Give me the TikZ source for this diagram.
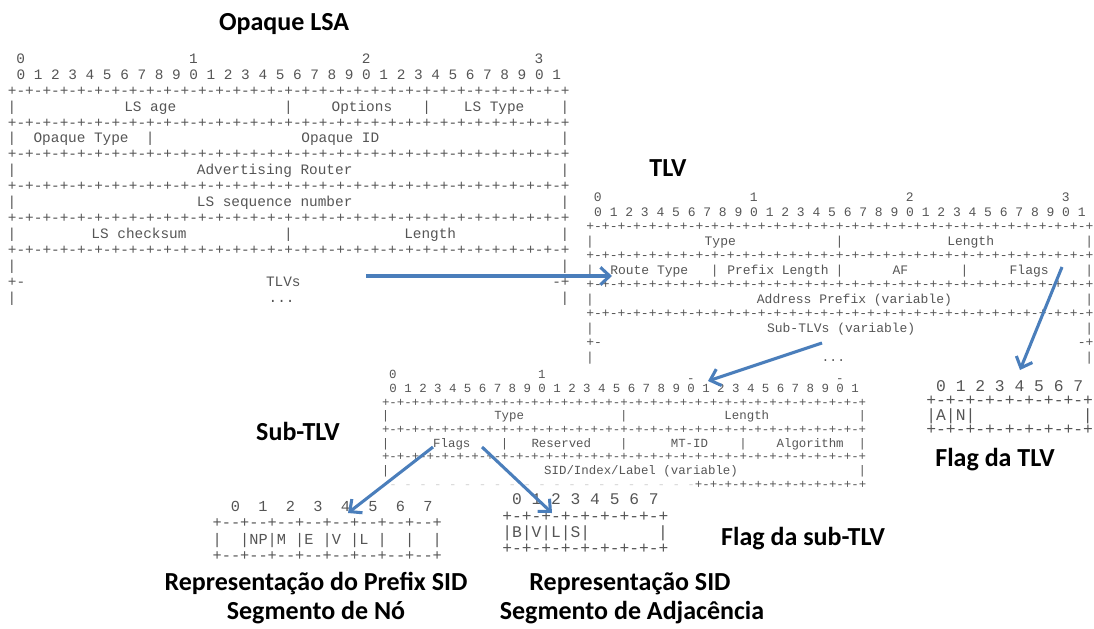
\documentclass[tikz,border=0pt]{standalone}
\usepackage{fontspec}
\setmainfont{Carlito}
\setmonofont{Liberation Mono}
\usetikzlibrary{arrows.meta}

\definecolor{ascii}{HTML}{555555}
\definecolor{faint}{HTML}{D2D2D2}
\definecolor{arrowblue}{HTML}{4A7EBB}

% packet-diagram building blocks (monospaced, one character per column)
\newcommand\bitrow{+-+-+-+-+-+-+-+-+-+-+-+-+-+-+-+-+-+-+-+-+-+-+-+-+-+-+-+-+-+-+-+-+}
\newcommand\bitruler{0 1 2 3 4 5 6 7 8 9 0 1 2 3 4 5 6 7 8 9 0 1 2 3 4 5 6 7 8 9 0 1}
\newcommand\octrow{+-+-+-+-+-+-+-+-+}
\newcommand\dd{-\kern0pt-}
\newcommand\wideoctrow{+\dd+\dd+\dd+\dd+\dd+\dd+\dd+\dd+}
\newcommand\monosize[1]{\ttfamily\fontsize{#1}{#1}\selectfont}
\newcommand\titlefont{\bfseries\fontsize{19.5pt}{19.5pt}\selectfont}

\tikzset{
  cell/.style={text=ascii, inner sep=0pt, anchor=base},
  run/.style={cell, anchor=base west},
  title/.style={font=\titlefont, text=black, inner sep=0pt, anchor=base},
  pointer/.style={draw=arrowblue, line width=2.3pt,
    -{Straight Barb[length=7pt, width=13pt]}},
}

\begin{document}
\begin{tikzpicture}[x=0.75pt, y=-0.75pt]
\useasboundingbox (0,0) rectangle (1094,628);

% ---------------- Opaque LSA ----------------
\node[title] (t-lsa) at (284,30) {Opaque LSA};
\begin{scope}[shift={(12,63.3)}, x=6.48pt, y=-11.95pt, nodes={font=\monosize{10.8pt}}]
  \foreach \c/\d in {1/0,21/1,41/2,61/3} \node[cell] (A-h\d) at (\c,0) {\d};
  \node[run] (A-ruler) at (0.5,1) {\bitruler};
  \foreach \r in {2,4,6,8,10,12} \node[run] (A-line\r) at (-0.5,\r) {\bitrow};
  \foreach \c/\r in {0/3,32/3,48/3,64/3, 0/5,16/5,64/5, 0/7,64/7, 0/9,64/9,
                     0/11,32/11,64/11, 0/13,64/13, 0/15,64/15}
    \node[cell] (A-bar\c-\r) at (\c,\r) {|};
  \node[cell] (A-age)  at (16,3)   {LS age};
  \node[cell] (A-opt)  at (40.5,3) {Options};
  \node[cell] (A-type) at (55.8,3) {LS Type};
  \node[cell] (A-otyp) at (8,5)    {Opaque Type};
  \node[cell] (A-oid)  at (38,5)   {Opaque ID};
  \node[cell] (A-adv)  at (30.4,7) {Advertising Router};
  \node[cell] (A-seq)  at (30.4,9) {LS sequence number};
  \node[cell] (A-cks)  at (14.7,11) {LS checksum};
  \node[cell] (A-len)  at (48.4,11) {Length};
  \node[run]  (A-tl)   at (-0.5,14) {+-};
  \node[cell] (A-tlvs) at (31.4,14) {TLVs};
  \node[run]  (A-tr)   at (62.5,14) {-+};
  \node[cell] (A-more) at (31.2,15) {...};
\end{scope}

% ---------------- TLV ----------------
\node[title] (t-tlv) at (668,176) {TLV};
\begin{scope}[shift={(590,201.9)}, x=5.85pt, y=-10.875pt, nodes={font=\monosize{9.75pt}}]
  \foreach \c/\d in {1/0,21/1,41/2,61/3} \node[cell] (B-h\d) at (\c,0) {\d};
  \node[run] (B-ruler) at (0.5,1) {\bitruler};
  \foreach \r in {2,4,6,8} \node[run] (B-line\r) at (-0.5,\r) {\bitrow};
  \foreach \c/\r in {0/3,32/3,64/3, 0/5,16/5,32/5,48/5,64/5, 0/7,64/7,
                     0/9,64/9, 0/11,64/11}
    \node[cell] (B-bar\c-\r) at (\c,\r) {|};
  \node[cell] (B-type)  at (16.7,3) {Type};
  \node[cell] (B-len)   at (48.8,3) {Length};
  \node[cell] (B-rt)    at (7.6,5)  {Route Type};
  \node[cell] (B-pl)    at (24.1,5) {Prefix Length};
  \node[cell] (B-af)    at (39.8,5) {AF};
  \node[cell] (B-flags) at (56.3,5) {Flags};
  \node[cell] (B-addr)  at (33.9,7) {Address Prefix (variable)};
  \node[cell] (B-sub)   at (32.2,9) {Sub-TLVs (variable)};
  \node[run]  (B-tl)    at (-0.5,10) {+-};
  \node[run]  (B-tr)    at (62.5,10) {-+};
  \node[cell] (B-more)  at (31.2,11) {...};
\end{scope}

% ---------------- Sub-TLV ----------------
\node[title] (t-sub) at (298,440) {Sub-TLV};
\begin{scope}[shift={(385.5,378.7)}, x=5.5875pt, y=-10.275pt, nodes={font=\monosize{9.31pt}}]
  \node[cell] (C-h0) at (1,0) {0};
  \node[cell] (C-h1) at (21,0) {1};
  \node[cell, yshift=-2.5pt] (C-h2) at (41,0) {-};
  \node[cell, yshift=-2.5pt] (C-h3) at (61,0) {-};
  \node[run] (C-ruler) at (0.5,1) {\bitruler};
  \foreach \r in {2,4,6} \node[run] (C-line\r) at (-0.5,\r) {\bitrow};
  \foreach \c/\r in {0/3,32/3,64/3, 0/5,16/5,32/5,48/5,64/5, 0/7,64/7}
    \node[cell] (C-bar\c-\r) at (\c,\r) {|};
  \node[cell] (C-type)  at (16.6,3) {Type};
  \node[cell] (C-len)   at (48.5,3) {Length};
  \node[cell] (C-flags) at (8.9,5)  {Flags};
  \node[cell] (C-res)   at (23.6,5) {Reserved};
  \node[cell] (C-mt)    at (40.8,5) {MT-ID};
  \node[cell] (C-alg)   at (57,5)   {Algorithm};
  \node[cell] (C-sid)   at (34.3,7) {SID/Index/Label (variable)};
  \node[run, text=faint] (C-fade) at (0.5,8) {- - - - - - - - - - - - - - - - - - - - -};
  \node[run] (C-tail) at (41.5,8) {+-+-+-+-+-+-+-+-+-+-+-+};
\end{scope}

% ---------------- Prefix-SID flags ----------------
\begin{scope}[shift={(217,511.6)}, x=6.8775pt, y=-12.225pt, nodes={font=\monosize{11.46pt}}]
  \foreach \d in {0,...,7} \node[cell] (D-h\d) at (2+3*\d,0) {\d};
  \node[run] (D-top) at (-0.5,1) {\wideoctrow};
  \node[run] (D-bits) at (-0.5,2) {|\ \ |NP|M\ |E\ |V\ |L\ |\ \ |\ \ |};
  \node[run] (D-bot) at (-0.5,3) {\wideoctrow};
\end{scope}
\node[title] (t-rep1) at (316,590) {Representação do Prefix SID};
\node[title] (t-seg1) at (316,619) {Segmento de Nó};

% ---------------- Adjacency-SID flags ----------------
\begin{scope}[shift={(507,504.9)}, x=7.3125pt, y=-12.225pt, nodes={font=\monosize{12.2pt}}]
  \node[run] (E-ruler) at (0.5,0) {0 1 2 3 4 5 6 7};
  \node[run] (E-top) at (-0.5,1) {\octrow};
  \node[run] (E-bits) at (-0.5,2) {|B|V|L|S|};
  \node[cell] (E-end) at (16,2) {|};
  \node[run] (E-bot) at (-0.5,3) {\octrow};
\end{scope}
\node[title] (t-flsub) at (803,545) {Flag da sub-TLV};
\node[title] (t-rep2) at (630,590) {Representação SID};
\node[title] (t-seg2) at (632,619) {Segmento de Adjacência};

% ---------------- TLV flags ----------------
\begin{scope}[shift={(931,391)}, x=7.35pt, y=-10.875pt, nodes={font=\monosize{12.25pt}}]
  \node[run] (F-ruler) at (0.5,0) {0 1 2 3 4 5 6 7};
  \node[run] (F-top) at (-0.5,1) {\octrow};
  \node[run] (F-bits) at (-0.5,2) {|A|N|};
  \node[cell] (F-end) at (16,2) {|};
  \node[run] (F-bot) at (-0.5,3) {\octrow};
\end{scope}
\node[title] (t-fltlv) at (995,466) {Flag da TLV};

% ---------------- pointers between the formats ----------------
\coordinate (tlvs-out)  at (366,276);
\coordinate (route-in)  at (612,276);
\coordinate (flags-out) at (1062,267);
\coordinate (tlvflag-in) at (1020,370);
\coordinate (sub-out)   at (822,343);
\coordinate (subtlv-in) at (708,381);
\coordinate (pfx-out)   at (433,447);
\coordinate (pfx-in)    at (348,513);
\coordinate (adj-out)   at (482,447);
\coordinate (adj-in)    at (552,513);

\draw[pointer] (tlvs-out) -- (route-in);
\draw[pointer] (flags-out) -- (tlvflag-in);
\draw[pointer] (sub-out) -- (subtlv-in);
\draw[pointer] (pfx-out) -- (pfx-in);
\draw[pointer] (adj-out) -- (adj-in);
\end{tikzpicture}
\end{document}
